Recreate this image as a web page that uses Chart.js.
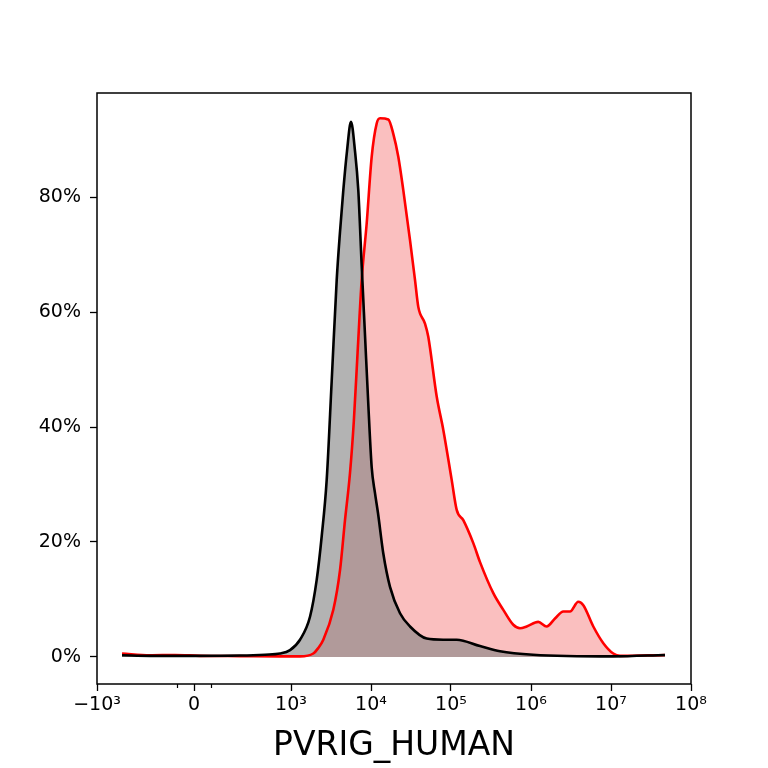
<!DOCTYPE html>
<html><head><meta charset="utf-8">
<script src="https://cdn.jsdelivr.net/npm/chart.js@4"></script>
<style>html,body{margin:0;padding:0;background:#fff}#wrap{width:768px;height:768px}</style>
</head><body><div id="wrap"><canvas id="c" width="768" height="768"></canvas></div>
<script>
// ---- data (x in fluorescence units, y in % of max) ----
const blackX = [-742, -454, 0, 474, 732, 887, 990, 1296, 1728, 2095, 2420, 2794, 3226, 3727, 4100, 4508, 5012, 5623, 6310, 6937, 7653, 8414, 9250, 10200, 11220, 12240, 14250, 17280, 23050, 30730, 49700, 80000, 117800, 230500, 410000, 1060000, 10600000, 47300000];
const blackY = [0.3, 0.2, 0.2, 0.25, 0.4, 0.6, 1.2, 3, 7, 13.4, 21, 30.8, 48, 65.6, 74, 81.2, 88, 93.1, 88, 81.2, 68, 56, 44, 33, 28.5, 25, 18, 12.2, 7.6, 5.3, 3.2, 3.0, 3.0, 1.9, 1.0, 0.4, 0.1, 0.35];
const redX = [-742, -454, -196, 62, 474, 887, 1296, 1900, 2175, 2535, 3380, 4100, 4732, 5464, 6100, 6800, 7653, 8830, 10200, 11780, 12960, 16450, 19000, 21940, 25330, 30730, 35480, 39000, 47320, 52000, 66250, 80140, 102000, 117800, 142500, 190000, 230500, 338000, 450700, 600800, 728800, 883900, 1233000, 1571000, 1995000, 2535000, 3073000, 3900000, 4508000, 6010000, 8015000, 10680000, 12960000, 47300000];
const redY = [0.6, 0.3, 0.35, 0.2, 0.15, 0.1, 0.1, 0.6, 1.5, 3, 8.2, 15.1, 23.8, 32, 41, 53, 65.6, 75.4, 87, 92.8, 93.7, 93.5, 91, 87, 81.2, 72.5, 65.6, 60.9, 58, 55.7, 45.3, 39.5, 30.8, 25.6, 23.8, 19.8, 16.5, 11.1, 8.2, 5.6, 5.0, 5.3, 6.1, 5.3, 6.7, 7.9, 7.9, 9.6, 9.0, 5.3, 2.4, 0.6, 0.2, 0.35];
const xTickValues = [-1000, 0, 1000, 1e4, 1e5, 1e6, 1e7, 1e8];
const xTickLabels = ['\u221210\u00b3', '0', '10\u00b3', '10\u2074', '10\u2075', '10\u2076', '10\u2077', '10\u2078'];
const xMinorTicks = [-180, 180];
const yTickValues = [0, 20, 40, 60, 80];
const xLabel = 'PVRIG_HUMAN';

// symmetric log transform
const LIN = 1000, LINSCALE = 1.2125;
function symlog(v) {
  const a = Math.abs(v);
  if (a <= LIN) return v / LIN * LINSCALE;
  return Math.sign(v) * (LINSCALE + Math.log10(a / LIN));
}
const toPts = (xs, ys) => xs.map((x, i) => ({ x: symlog(x), y: ys[i] }));

const FONT = 'DejaVu Sans';

const framePlugin = {
  id: 'frame',
  afterDraw(chart) {
    const { ctx, chartArea: a, scales } = chart;
    ctx.save();
    ctx.strokeStyle = '#000';
    ctx.lineWidth = 1.5;
    ctx.strokeRect(a.left, a.top, a.right - a.left, a.bottom - a.top);
    ctx.lineWidth = 1.2;
    ctx.beginPath();
    xMinorTicks.forEach(v => {
      const px = Math.round(scales.x.getPixelForValue(symlog(v))) + 0.5;
      ctx.moveTo(px, a.bottom);
      ctx.lineTo(px, a.bottom + 4);
    });
    ctx.stroke();
    ctx.restore();
  }
};

new Chart(document.getElementById('c'), {
  type: 'line',
  data: {
    datasets: [
      { label: 'control', data: toPts(blackX, blackY), borderColor: '#000000', backgroundColor: 'rgba(128,128,128,0.6)', fill: 'origin', borderWidth: 2.6, pointRadius: 0, tension: 0.3, cubicInterpolationMode: 'monotone' },
      { label: 'PVRIG', data: toPts(redX, redY), borderColor: '#ff0000', backgroundColor: 'rgba(235,0,0,0.25)', fill: 'origin', borderWidth: 2.6, pointRadius: 0, tension: 0.3, cubicInterpolationMode: 'monotone' }
    ]
  },
  options: {
    responsive: false, animation: false, devicePixelRatio: 1,
    layout: { padding: { left: 0, right: 77, top: 93, bottom: 0 } },
    plugins: { legend: { display: false }, tooltip: { enabled: false }, filler: { drawTime: 'beforeDatasetsDraw' } },
    scales: {
      x: {
        type: 'linear', min: symlog(-1000), max: symlog(1e8),
        afterBuildTicks: s => { s.ticks = xTickValues.map(v => ({ value: symlog(v) })); },
        ticks: { callback: (v, i) => xTickLabels[i], autoSkip: false, maxRotation: 0, font: { family: FONT, size: 19 }, color: '#000', padding: 3 },
        grid: { drawOnChartArea: false, tickLength: 7, tickColor: '#000', tickWidth: 1.3 },
        border: { display: false },
        title: { display: true, text: xLabel, font: { family: FONT, size: 33 }, color: '#000', padding: { top: 0, bottom: 2 } },
        afterFit: s => { s.height = 84; }
      },
      y: {
        type: 'linear', min: -4.7, max: 98.1,
        afterBuildTicks: s => { s.ticks = yTickValues.map(v => ({ value: v })); },
        ticks: { callback: v => v + '%', font: { family: FONT, size: 19 }, color: '#000', padding: 9 },
        grid: { drawOnChartArea: false, tickLength: 7, tickColor: '#000', tickWidth: 1.3 },
        border: { display: false },
        afterFit: s => { s.width = 97; }
      }
    }
  },
  plugins: [framePlugin]
});
</script>
</body></html>
